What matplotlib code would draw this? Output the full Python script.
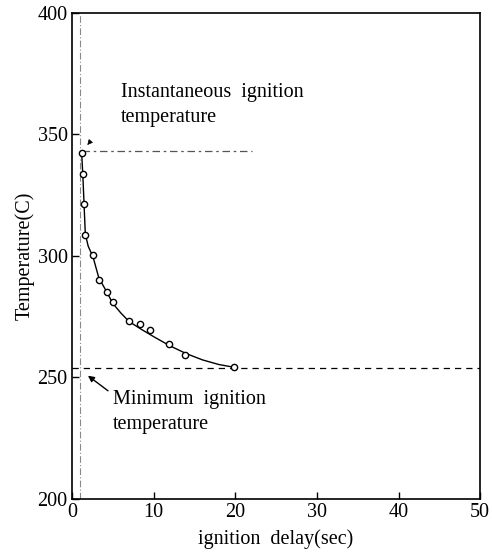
import numpy as np
import matplotlib
matplotlib.use('Agg')
import matplotlib.pyplot as plt

plt.rcParams['font.family'] = ['Liberation Serif', 'DejaVu Serif']

# measured ignition delay (sec) vs furnace temperature (C)
delay = [1.2, 1.4, 1.5, 1.6, 2.6, 3.3, 4.3, 5.0, 7.0, 8.3, 9.6, 11.9, 13.9, 19.8]
temp = [342.5, 333.5, 321.2, 308.6, 300.5, 290.2, 285.0, 281.0, 273.4, 272.0, 269.6, 263.8, 259.4, 254.2]

# hand-drawn trend curve through the data
curve_x = [1.2, 1.35, 1.5, 1.65, 2.0, 2.6, 3.3, 4.3, 5.0, 6.0, 7.0, 8.5, 10.0, 12.0, 14.0, 16.0, 18.0, 19.8]
curve_t = [342.5, 333.0, 321.0, 309.0, 304.0, 299.5, 291.0, 285.0, 280.5, 276.5, 273.0, 269.8, 266.8, 263.0, 259.8, 257.2, 255.3, 254.2]

inst_temp = 343
min_temp = 254
delay_line = 1.0

fig, ax = plt.subplots(figsize=(4.92, 5.55), dpi=100)
fig.subplots_adjust(left=0.146, right=0.976, bottom=0.101, top=0.977)

ax.axvline(delay_line, color='#888888', lw=0.8, ls=(0, (6, 2, 1, 2)), zorder=1)
ax.plot([1.2, 22], [inst_temp, inst_temp], color='#555555', lw=0.9, ls=(0, (6, 3, 2, 3)), zorder=1)
ax.axhline(min_temp, color='black', lw=0.9, ls=(0, (5, 4)), zorder=1)

ax.plot(curve_x, curve_t, color='black', lw=1.0, zorder=2)
ax.plot(delay, temp, ls='none', marker='o', ms=4.5, mfc='white', mec='black', mew=1.0, zorder=3)

ax.text(6.0, 367, 'Instantaneous  ignition', fontsize=14.5, va='center')
ax.text(6.0, 357, 'temperature', fontsize=14.5, va='center')
ax.annotate('', xy=(1.9, 345.6), xytext=(2.3, 347.2),
            arrowprops=dict(arrowstyle='-|>', color='black', lw=0.5, mutation_scale=8))

ax.text(5.0, 241, 'Minimum  ignition', fontsize=14.5, va='center')
ax.text(5.0, 230.5, 'temperature', fontsize=14.5, va='center')
ax.annotate('', xy=(1.7, 251.4), xytext=(4.7, 243.8),
            arrowprops=dict(arrowstyle='-|>', color='black', lw=1.0, mutation_scale=9))

ax.set_xlim(0, 50)
ax.set_ylim(200, 400)
ax.set_xticks([0, 10, 20, 30, 40, 50])
ax.set_yticks([200, 250, 300, 350, 400])
ax.tick_params(direction='in', length=5, width=1, labelsize=14.5, pad=3)
for s in ax.spines.values():
    s.set_linewidth(1.2)

ax.set_xlabel('ignition  delay(sec)', fontsize=14.5, labelpad=5)
ax.set_ylabel('Temperature(C)', fontsize=14.5, labelpad=2)

fig.savefig('out.png', dpi=100)
